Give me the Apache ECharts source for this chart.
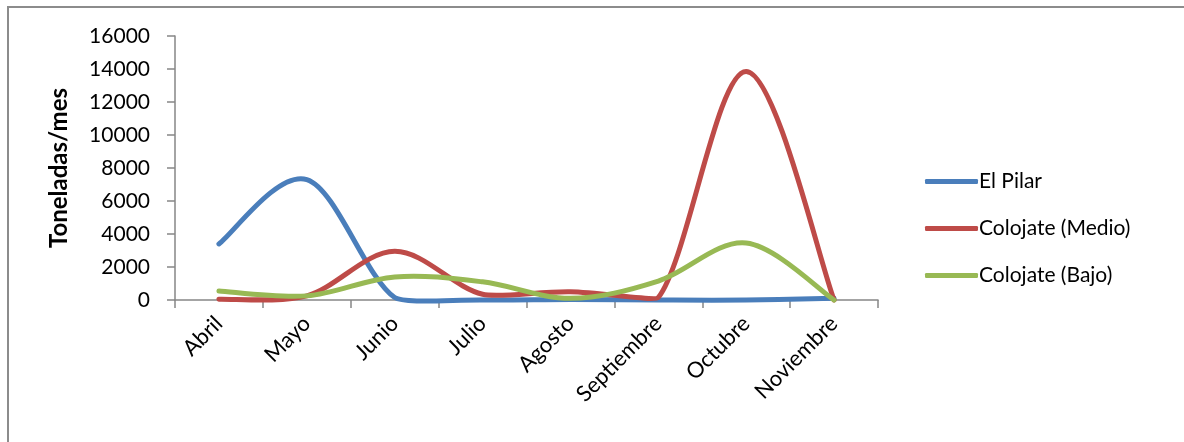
<!DOCTYPE html>
<html>
<head>
<meta charset="utf-8">
<script src="https://cdn.jsdelivr.net/npm/echarts@6/dist/echarts.min.js"></script>
<style>
html,body{margin:0;padding:0;background:#fff;}
#chart{width:1184px;height:442px;}
</style>
</head>
<body>
<div id="chart"></div>
<script>
var categories = ['Abril','Mayo','Junio','Julio','Agosto','Septiembre','Octubre','Noviembre'];
var elPilar = [3400, 7300, 150, 0, 30, 0, 0, 100];
var colojateMedio = [50, 250, 2950, 350, 500, 150, 13850, 0];
var colojateBajo = [550, 250, 1400, 1100, 100, 1150, 3450, 0];
var yTicks = [0, 2000, 4000, 6000, 8000, 10000, 12000, 14000, 16000];

var FONT = 'Lato, "Open Sans", sans-serif';
var chart = echarts.init(document.getElementById('chart'), null, {renderer:'canvas'});

// Excel-like smoothed line: Catmull-Rom handles (1/6), limited overshoot; positions from ECharts axes
function limitHandle(base, h, sign, lo, hi){
  var cy = base[1] + sign * h[1];
  var k = 1;
  if (cy > hi && h[1] !== 0) k = (hi - base[1]) / (sign * h[1]);
  else if (cy < lo && h[1] !== 0) k = (lo - base[1]) / (sign * h[1]);
  k = Math.max(0, Math.min(1, k));
  return [base[0] + sign * h[0] * k, base[1] + sign * h[1] * k];
}
function mk(name, values, color){
  return {
    name: name, type: 'custom',
    itemStyle: {color: color},
    data: values.map(function(v, i){ return [i, v]; }),
    encode: {x: 0, y: 1},
    renderItem: function(params, api){
      if (params.dataIndex !== 0) return null;
      var pts = values.map(function(v, i){ return api.coord([i, v]); });
      var n = pts.length, hs = [];
      for (var i = 0; i < n; i++) {
        var p0 = pts[Math.max(i - 1, 0)], p2 = pts[Math.min(i + 1, n - 1)];
        hs.push([(p2[0] - p0[0]) / 6, (p2[1] - p0[1]) / 6]);
      }
      var d = 'M' + pts[0][0] + ' ' + pts[0][1];
      for (var j = 0; j < n - 1; j++) {
        var a = pts[j], b = pts[j + 1];
        var m = 0.1 * Math.abs(b[1] - a[1]) + 3.5;
        var lo = Math.min(a[1], b[1]) - m, hi = Math.max(a[1], b[1]) + m;
        var c1 = limitHandle(a, hs[j], 1, lo, hi);
        var c2 = limitHandle(b, hs[j + 1], -1, lo, hi);
        d += ' C' + c1[0] + ' ' + c1[1] + ' ' + c2[0] + ' ' + c2[1] + ' ' + b[0] + ' ' + b[1];
      }
      return {
        type: 'path',
        shape: {pathData: d},
        style: {fill: null, stroke: color, lineWidth: 5, lineCap: 'round', lineJoin: 'round'}
      };
    }
  };
}
chart.setOption({
  animation: false,
  backgroundColor: '#fff',
  textStyle: {fontFamily: FONT},
  graphic: [{
    type: 'rect', shape: {x: 8, y: 7, width: 1300, height: 600},
    style: {fill: 'none', stroke: '#8c8c8c', lineWidth: 2}, z: -1
  }],
  grid: {left: 175, right: 306, top: 36, bottom: 142, containLabel: false},
  legend: {
    orient: 'vertical', left: 920, top: 166, itemGap: 26,
    itemWidth: 53, itemHeight: 5, icon: 'roundRect',
    textStyle: {fontSize: 21, color: '#000', fontFamily: FONT, padding: [0,0,0,-4]},
    data: ['El Pilar','Colojate (Medio)','Colojate (Bajo)']
  },
  xAxis: {
    type: 'category', data: categories, boundaryGap: true,
    axisLine: {lineStyle: {color: '#868686', width: 1.5}},
    axisTick: {show: true, length: 8, lineStyle: {color: '#868686', width: 1.5}},
    axisLabel: {rotate: 45, fontSize: 22, color: '#000', margin: 20, fontFamily: FONT},
    splitLine: {show: false}
  },
  yAxis: {
    type: 'value', min: yTicks[0], max: yTicks[yTicks.length-1], interval: 2000,
    name: 'Toneladas/mes', nameLocation: 'middle', nameGap: 104,
    nameTextStyle: {fontSize: 24, fontWeight: 'bold', color: '#000', fontFamily: FONT},
    axisLine: {show: true, lineStyle: {color: '#868686', width: 1.5}},
    axisTick: {show: true, length: 8, lineStyle: {color: '#868686', width: 1.5}},
    axisLabel: {fontSize: 21, color: '#000', margin: 25, fontFamily: FONT,
      formatter: function(v){ return String(v); }},
    splitLine: {show: false}
  },
  series: [
    mk('El Pilar', elPilar, '#4a7ebb'),
    mk('Colojate (Medio)', colojateMedio, '#be4b48'),
    mk('Colojate (Bajo)', colojateBajo, '#98b954')
  ]
});
</script>
</body>
</html>
